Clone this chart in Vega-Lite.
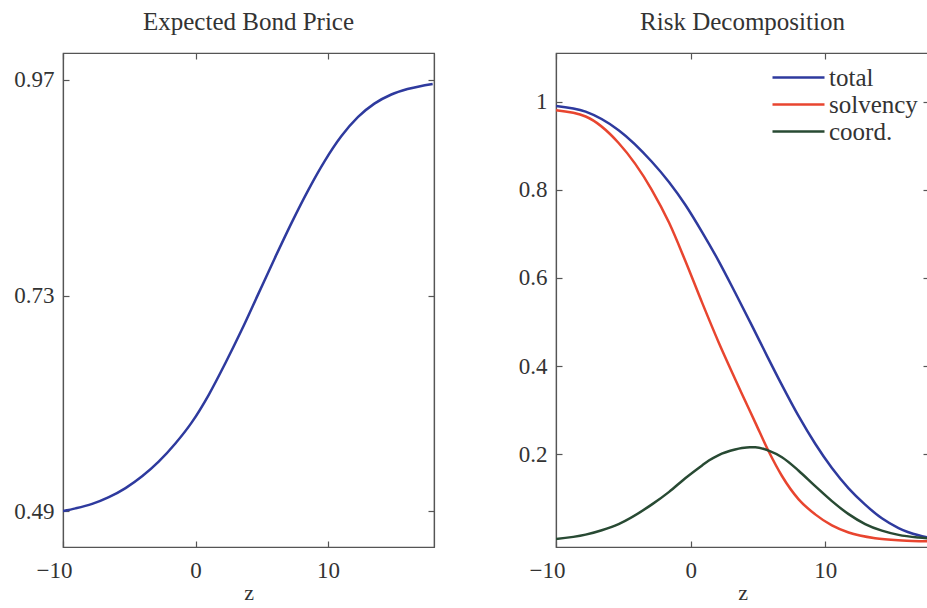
{
  "$schema": "https://vega.github.io/schema/vega-lite/v6.json",
  "padding": {"left": 13, "top": 9, "right": 0, "bottom": 0},
  "background": "white",
  "spacing": 81,
  "config": {
    "font": "Liberation Serif",
    "view": {"stroke": "#555555", "strokeWidth": 1.2},
    "axis": {
      "grid": false,
      "domainColor": "#555555",
      "domainWidth": 1.2,
      "tickColor": "#555555",
      "tickWidth": 1.2,
      "tickSize": -6,
      "labelColor": "#333333",
      "labelFont": "Liberation Serif",
      "labelFontSize": 23,
      "labelFlush": false,
      "titleFont": "Liberation Serif",
      "titleFontSize": 23,
      "titleFontWeight": "normal",
      "titleColor": "#333333"
    },
    "title": {"font": "Liberation Serif", "fontSize": 25, "fontWeight": "normal", "color": "#333333", "offset": 17},
    "legend": {"labelFont": "Liberation Serif", "labelFontSize": 25, "labelColor": "#333333", "padding": 0}
  },
  "resolve": {"scale": {"color": "independent"}, "legend": {"color": "independent"}},
  "datasets": {
    "price": [
      {"z": -10, "price": 0.490},
      {"z": -9.05, "price": 0.493},
      {"z": -7.8, "price": 0.498},
      {"z": -6.54, "price": 0.5055},
      {"z": -5.28, "price": 0.5156},
      {"z": -4.03, "price": 0.5287},
      {"z": -2.78, "price": 0.545},
      {"z": -1.52, "price": 0.5652},
      {"z": -0.27, "price": 0.589},
      {"z": 0.99, "price": 0.6192},
      {"z": 2.24, "price": 0.6543},
      {"z": 3.49, "price": 0.6918},
      {"z": 4.75, "price": 0.7321},
      {"z": 6.0, "price": 0.7721},
      {"z": 7.25, "price": 0.8109},
      {"z": 8.51, "price": 0.8474},
      {"z": 9.76, "price": 0.8799},
      {"z": 11.0, "price": 0.9072},
      {"z": 12.27, "price": 0.9288},
      {"z": 13.5, "price": 0.9436},
      {"z": 14.78, "price": 0.9538},
      {"z": 16.0, "price": 0.9599},
      {"z": 17.9, "price": 0.9656}
    ],
    "risk": [
      {"z": -10, "series": "total", "value": 0.990},
      {"z": -7.8, "series": "total", "value": 0.977},
      {"z": -5.35, "series": "total", "value": 0.935},
      {"z": -2.9, "series": "total", "value": 0.864},
      {"z": -1.6, "series": "total", "value": 0.817},
      {"z": -0.4, "series": "total", "value": 0.766},
      {"z": 0.85, "series": "total", "value": 0.704},
      {"z": 2.05, "series": "total", "value": 0.640},
      {"z": 3.3, "series": "total", "value": 0.567},
      {"z": 4.55, "series": "total", "value": 0.492},
      {"z": 5.66, "series": "total", "value": 0.424},
      {"z": 6.78, "series": "total", "value": 0.357},
      {"z": 8.02, "series": "total", "value": 0.2865},
      {"z": 9.25, "series": "total", "value": 0.224},
      {"z": 10.49, "series": "total", "value": 0.169},
      {"z": 11.73, "series": "total", "value": 0.123},
      {"z": 12.96, "series": "total", "value": 0.086},
      {"z": 14.2, "series": "total", "value": 0.055},
      {"z": 15.44, "series": "total", "value": 0.033},
      {"z": 16.93, "series": "total", "value": 0.0165},
      {"z": 17.7, "series": "total", "value": 0.011},
      {"z": -10, "series": "solvency", "value": 0.980},
      {"z": -7.8, "series": "solvency", "value": 0.966},
      {"z": -5.35, "series": "solvency", "value": 0.906},
      {"z": -2.9, "series": "solvency", "value": 0.8005},
      {"z": -1.6, "series": "solvency", "value": 0.725},
      {"z": -0.4, "series": "solvency", "value": 0.639},
      {"z": 0.85, "series": "solvency", "value": 0.544},
      {"z": 2.05, "series": "solvency", "value": 0.456},
      {"z": 3.3, "series": "solvency", "value": 0.371},
      {"z": 3.81, "series": "solvency", "value": 0.337},
      {"z": 4.8, "series": "solvency", "value": 0.272},
      {"z": 5.79, "series": "solvency", "value": 0.207},
      {"z": 6.78, "series": "solvency", "value": 0.151},
      {"z": 8.02, "series": "solvency", "value": 0.098},
      {"z": 9.25, "series": "solvency", "value": 0.064},
      {"z": 10.49, "series": "solvency", "value": 0.039},
      {"z": 11.73, "series": "solvency", "value": 0.023},
      {"z": 13.7, "series": "solvency", "value": 0.010},
      {"z": 15.7, "series": "solvency", "value": 0.005},
      {"z": 17.7, "series": "solvency", "value": 0.003},
      {"z": -10, "series": "coord.", "value": 0.008},
      {"z": -7.8, "series": "coord.", "value": 0.018},
      {"z": -6.6, "series": "coord.", "value": 0.028},
      {"z": -5.35, "series": "coord.", "value": 0.042},
      {"z": -2.9, "series": "coord.", "value": 0.086},
      {"z": -1.6, "series": "coord.", "value": 0.115},
      {"z": -0.4, "series": "coord.", "value": 0.146},
      {"z": 0.85, "series": "coord.", "value": 0.175},
      {"z": 1.35, "series": "coord.", "value": 0.186},
      {"z": 2.05, "series": "coord.", "value": 0.198},
      {"z": 3.3, "series": "coord.", "value": 0.211},
      {"z": 3.81, "series": "coord.", "value": 0.2143},
      {"z": 4.4, "series": "coord.", "value": 0.2163},
      {"z": 4.8, "series": "coord.", "value": 0.2163},
      {"z": 5.79, "series": "coord.", "value": 0.2085},
      {"z": 6.78, "series": "coord.", "value": 0.1935},
      {"z": 8.02, "series": "coord.", "value": 0.163},
      {"z": 9.25, "series": "coord.", "value": 0.128},
      {"z": 10.49, "series": "coord.", "value": 0.094},
      {"z": 11.73, "series": "coord.", "value": 0.0645},
      {"z": 12.96, "series": "coord.", "value": 0.042},
      {"z": 14.2, "series": "coord.", "value": 0.027},
      {"z": 15.44, "series": "coord.", "value": 0.0175},
      {"z": 16.93, "series": "coord.", "value": 0.0115},
      {"z": 17.7, "series": "coord.", "value": 0.0095}
    ]
  },
  "hconcat": [
    {
      "title": "Expected Bond Price",
      "width": 371,
      "height": 494,
      "data": {"name": "price"},
      "layer": [
        {
          "mark": {"type": "line", "color": "#2e3a9e", "strokeWidth": 2.5, "interpolate": "monotone", "clip": true},
          "encoding": {
            "x": {
              "field": "z", "type": "quantitative",
              "scale": {"domain": [-10, 18], "nice": false, "zero": false},
              "axis": {"values": [-10, 0, 10], "title": "z", "labelPadding": 18, "titlePadding": 0, "titleFontSize": 22,
                       "labelOffset": {"condition": {"test": "datum.value < 0", "value": -9}, "value": 0}}
            },
            "y": {
              "field": "price", "type": "quantitative",
              "scale": {"domain": [0.45, 1.0], "nice": false, "zero": false},
              "axis": {"values": [0.49, 0.73, 0.97], "format": ".2f", "title": null, "labelPadding": 15}
            }
          }
        },
        {
          "mark": {"type": "line", "opacity": 0},
          "encoding": {
            "x": {"field": "z", "type": "quantitative", "axis": {"orient": "top", "values": [-10, 0, 10], "labels": false, "title": null}},
            "y": {"field": "price", "type": "quantitative", "axis": {"orient": "right", "values": [0.49, 0.73, 0.97], "labels": false, "title": null}}
          }
        }
      ],
      "resolve": {"axis": {"x": "independent", "y": "independent"}}
    },
    {
      "title": "Risk Decomposition",
      "width": 373,
      "height": 494,
      "data": {"name": "risk"},
      "layer": [
        {
          "mark": {"type": "line", "strokeWidth": 2.5, "interpolate": "monotone", "clip": true},
          "encoding": {
            "x": {
              "field": "z", "type": "quantitative",
              "scale": {"domain": [-10, 17.7], "nice": false, "zero": false},
              "axis": {"values": [-10, 0, 10], "title": "z", "labelPadding": 18, "titlePadding": 0, "titleFontSize": 22,
                       "labelOffset": {"condition": {"test": "datum.value < 0", "value": -9}, "value": 0}}
            },
            "y": {
              "field": "value", "type": "quantitative",
              "scale": {"domain": [-0.01, 1.11], "nice": false, "zero": false},
              "axis": {"values": [0.2, 0.4, 0.6, 0.8, 1], "format": "~g", "title": null, "labelPadding": 15}
            },
            "color": {
              "field": "series", "type": "nominal",
              "scale": {"domain": ["total", "solvency", "coord."], "range": ["#2e3a9e", "#e8452f", "#284a33"]},
              "legend": {
                "title": null, "orient": "none", "legendX": 215, "legendY": 11,
                "symbolType": "stroke", "symbolSize": 2704, "symbolStrokeWidth": 2.5,
                "clipHeight": 27, "rowPadding": 0, "labelOffset": 3
              }
            }
          }
        },
        {
          "mark": {"type": "line", "opacity": 0},
          "encoding": {
            "x": {"field": "z", "type": "quantitative", "axis": {"orient": "top", "values": [-10, 0, 10], "labels": false, "title": null}},
            "y": {"field": "value", "type": "quantitative", "axis": {"orient": "right", "values": [0.2, 0.4, 0.6, 0.8, 1], "labels": false, "title": null}},
            "detail": {"field": "series", "type": "nominal"}
          }
        }
      ],
      "resolve": {"axis": {"x": "independent", "y": "independent"}}
    }
  ]
}
